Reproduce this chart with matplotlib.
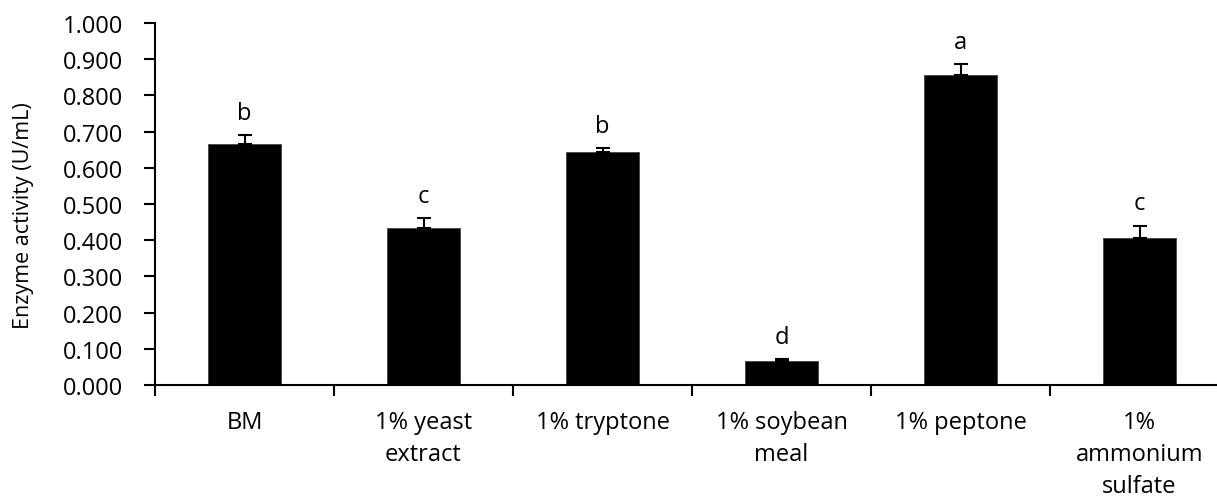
import matplotlib
matplotlib.use("Agg")
import matplotlib.pyplot as plt
import numpy as np

categories = ["BM", "1% yeast\nextract", "1% tryptone", "1% soybean\nmeal", "1% peptone", "1%\nammonium\nsulfate"]
activity = [0.665, 0.433, 0.644, 0.065, 0.856, 0.405]
errors = [0.025, 0.028, 0.011, 0.006, 0.031, 0.035]
letters = ["b", "c", "b", "d", "a", "c"]
yticks = [0.0, 0.1, 0.2, 0.3, 0.4, 0.5, 0.6, 0.7, 0.8, 0.9, 1.0]

plt.rcParams['font.family'] = ['Open Sans', 'DejaVu Sans']

fig = plt.figure(figsize=(12.17, 5.02), dpi=100)
ax = fig.add_axes([155/1217, 116/502, 1074/1217, 362/502])

x = np.arange(len(categories))
ax.bar(x, activity, width=0.41, color='black', edgecolor='#444444', linewidth=0.6, zorder=2)
ax.errorbar(x, activity, yerr=[np.zeros(len(errors)), errors], fmt='none',
            ecolor='black', elinewidth=1.5, capsize=5, capthick=1.5, zorder=3)
for xi, v, e, l in zip(x, activity, errors, letters):
    ax.text(xi, v + e + 0.045, l, ha='center', va='baseline', fontsize=17)

ax.set_xlim(-0.5, len(categories) - 0.5)
ax.set_ylim(0, 1.0)
ax.set_yticks(yticks)
ax.set_yticklabels([f"{t:.3f}" for t in yticks], fontsize=17)
ax.set_xticks(x)
ax.set_xticklabels(categories, fontsize=17, linespacing=1.45, va='top')
ax.set_xticks(np.arange(-0.5, len(categories), 1.0), minor=True)
ax.tick_params(axis='x', which='major', length=0, pad=18)
ax.tick_params(axis='x', which='minor', length=8, width=1.5, direction='out')
ax.tick_params(axis='y', length=8, width=1.5, direction='out', pad=15)

for s in ['top', 'right']:
    ax.spines[s].set_visible(False)
for s in ['left', 'bottom']:
    ax.spines[s].set_linewidth(1.5)

ax.set_ylabel("Enzyme activity (U/mL)", fontsize=15.5)
ax.yaxis.set_label_coords(-0.113, 0.47)

fig.savefig("out.png", dpi=100)
